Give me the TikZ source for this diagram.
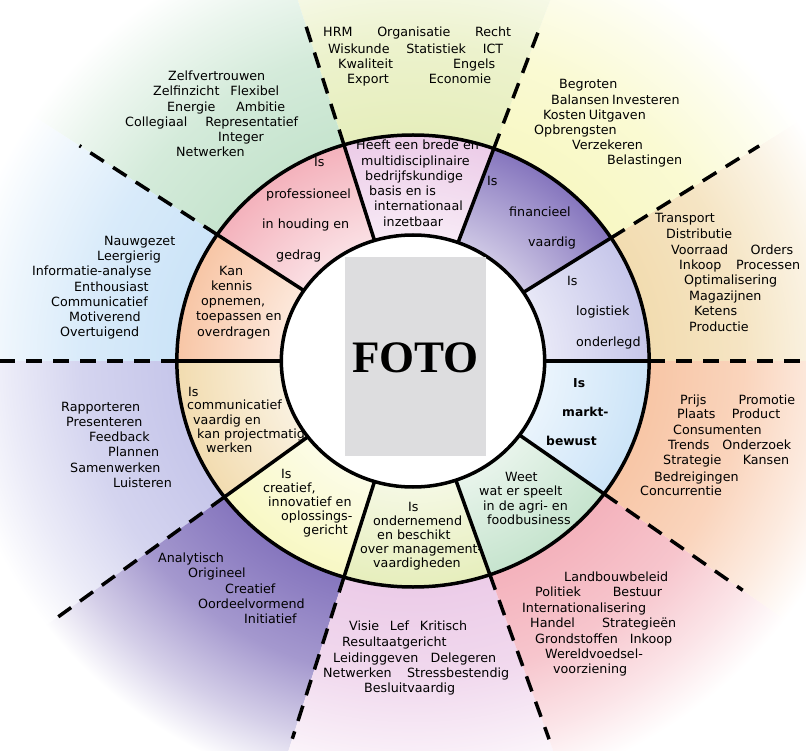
\documentclass[tikz,border=0pt]{standalone}
\usepackage{fontspec}
\setmainfont{DejaVu Sans}
\newfontfamily\fotofont{Liberation Serif}
\usepackage{tikz}

\definecolor{lavendel}{HTML}{C6C6EA}
\definecolor{paars}{HTML}{8676BE}
\definecolor{lila}{HTML}{ECCCE8}
\definecolor{roze}{HTML}{F4B2BC}
\definecolor{perzik}{HTML}{F8C6A6}
\definecolor{zand}{HTML}{F2DCB0}
\definecolor{geel}{HTML}{F8F8C4}
\definecolor{geelgroen}{HTML}{E6EEBC}
\definecolor{groen}{HTML}{C6E4CE}
\definecolor{blauw}{HTML}{CCE4F8}
\definecolor{fotogrijs}{HTML}{DDDDDF}

\colorlet{segcol}{white}
\colorlet{outcol}{white}
\pgfdeclareradialshading[segcol,outcol]{wheelfade}{\pgfpoint{0bp}{0bp}}{color(0bp)=(white); color(7.1bp)=(segcol!40!white); color(12.8bp)=(segcol); color(12.85bp)=(outcol); color(18bp)=(outcol!75!white); color(22bp)=(outcol!35!white); color(25bp)=(white); color(50bp)=(white)}

\newcommand\spread[2]{\makebox[#1pt][s]{#2}}

\tikzset{
  word/.style={anchor=base west,inner sep=0pt,font=\fontsize{12.7}{14}\selectfont},
  wheelline/.style={line width=3.5pt},
  dashline/.style={line width=3.5pt,dash pattern=on 16pt off 11pt},
}

\begin{document}
\begin{tikzpicture}[x=1pt,y=-1pt]
\useasboundingbox (0,0) rectangle (806,751);
\clip (0,0) rectangle (806,751);
\fill[white] (0,0) rectangle (806,751);

\begin{scope}[shift={(413,361)},x=1.045pt,y=1pt]
\foreach \a/\b/\ci/\co in {0/33/lavendel/zand, 33/70/paars/geel, 70/107/lila/geelgroen, 107/146/roze/groen, 146/180/perzik/blauw, 180/217/zand/lavendel, 217/253/geel/paars, 253/289/geelgroen/lila, 289/324/groen/roze, 324/360/blauw/perzik}{
  \colorlet{segcol}{\ci}\colorlet{outcol}{\co}
  \begin{scope}
    \clip (0,0) -- (\a:470) arc[start angle=\a,end angle=\b,radius=470] -- cycle;
    \shade[shading=wheelfade] (0,0) circle (440);
  \end{scope}
}
\filldraw[fill=white,wheelline] (0,0) circle (126);
\draw[wheelline] (0,0) circle (226);
\foreach \a in {0,33,70,107,146,180,217,253,289,324}
  \draw[wheelline] (\a:126) -- (\a:226);
\foreach \a/\r in {0/420, 33/395, 70/352, 107/356, 146/385, 180/420, 217/425, 253/395, 289/400, 324/390}
  \draw[dashline] (\a:226) -- (\a:\r);
\end{scope}

\node[fill=fotogrijs,minimum width=141pt,minimum height=199pt,inner sep=0pt] (foto) at (415.5,356.5) {};
\node[inner sep=0pt,font=\fotofont\bfseries\fontsize{45}{45}\selectfont] (fototekst) at (415.5,358) {FOTO};

\foreach \x/\y/\t [count=\i] in {323/37/{\spread{188}{HRM Organisatie Recht}}, 328/54/{\spread{175}{Wiskunde Statistiek ICT}}, 338/69/{\spread{157}{Kwaliteit Engels}}, 347/84/{\spread{144}{Export Economie}}}
  \node[word] (hrm\i) at (\x,\y) {\t};
\foreach \x/\y/\t [count=\i] in {168/81/Zelfvertrouwen, 153/96/{\spread{126}{Zelfinzicht Flexibel}}, 167/112/{\spread{118}{Energie Ambitie}}, 125/127/{\spread{173}{Collegiaal Representatief}}, 218/142/Integer, 176/157/Netwerken}
  \node[word] (zelf\i) at (\x,\y) {\t};
\foreach \x/\y/\t [count=\i] in {559/89/Begroten, 551/105/{\spread{124}{Balansen Investeren}}, 543/120/{\spread{99}{Kosten Uitgaven}}, 534/135/Opbrengsten, 572/150/Verzekeren, 607/165/Belastingen}
  \node[word] (begr\i) at (\x,\y) {\t};
\foreach \x/\y/\t [count=\i] in {655/223/Transport, 666/239/Distributie, 671/255/{\spread{122}{Voorraad Orders}}, 679/270/{\spread{121}{Inkoop Processen}}, 684/285/Optimalisering, 689/301/Magazijnen, 694/316/Ketens, 689/331/Productie}
  \node[word] (trans\i) at (\x,\y) {\t};
\foreach \x/\y/\t [count=\i] in {104/246/Nauwgezet, 97/261/Leergierig, 32/276/Informatie-analyse, 74/292/Enthousiast, 51/307/Communicatief, 69/322/Motiverend, 60/337/Overtuigend}
  \node[word] (nauw\i) at (\x,\y) {\t};
\foreach \x/\y/\t [count=\i] in {61/411/Rapporteren, 66/426/Presenteren, 89/441/Feedback, 108/456/Plannen, 70/472/Samenwerken, 113/487/Luisteren}
  \node[word] (rapp\i) at (\x,\y) {\t};
\foreach \x/\y/\t [count=\i] in {680/404/{\spread{115}{Prijs Promotie}}, 677/418/{\spread{103}{Plaats Product}}, 673/434/Consumenten, 668/449/{\spread{123}{Trends Onderzoek}}, 663/464/{\spread{126}{Strategie Kansen}}, 654/481/Bedreigingen, 640/495/Concurrentie}
  \node[word] (prijs\i) at (\x,\y) {\t};
\foreach \x/\y/\t [count=\i] in {158/562/Analytisch, 188/577/Origineel, 225/593/Creatief, 198/608/Oordeelvormend, 244/623/Initiatief}
  \node[word] (analyt\i) at (\x,\y) {\t};
\foreach \x/\y/\t [count=\i] in {349/630/{\spread{118}{Visie Lef Kritisch}}, 342/646/Resultaatgericht, 333/662/{\spread{163}{Leidinggeven Delegeren}}, 323/677/{\spread{186}{Netwerken Stressbestendig}}, 364/692/Besluitvaardig}
  \node[word] (visie\i) at (\x,\y) {\t};
\foreach \x/\y/\t [count=\i] in {564/581/Landbouwbeleid, 535/596/{\spread{127}{Politiek Bestuur}}, 522/612/Internationalisering, 530/627/{\spread{146}{Handel Strategieën}}, 535/643/{\spread{137}{Grondstoffen Inkoop}}, 545/658/Wereldvoedsel-, 553/673/voorziening}
  \node[word] (landb\i) at (\x,\y) {\t};

\foreach \x/\y/\t [count=\i] in {314/167/Is, 266/199/professioneel, 262/229/in houding en, 276/260/gedrag}
  \node[word] (prof\i) at (\x,\y) {\t};
\foreach \x/\y/\t [count=\i] in {356/150/Heeft een brede en, 361/166/multidisciplinaire, 365/181/bedrijfskundige, 369/196/basis en is, 374/211/internationaal, 383/227/inzetbaar}
  \node[word] (brede\i) at (\x,\y) {\t};
\foreach \x/\y/\t [count=\i] in {487/186/Is, 509/217/financieel, 528/247/vaardig}
  \node[word] (fin\i) at (\x,\y) {\t};
\foreach \x/\y/\t [count=\i] in {567/286/Is, 576/316/logistiek, 576/347/onderlegd}
  \node[word] (logis\i) at (\x,\y) {\t};
\foreach \x/\y/\t [count=\i] in {219/276/Kan, 211/291/kennis, 201/306/{opnemen,}, 196/321/toepassen en, 197/337/overdragen}
  \node[word] (kennis\i) at (\x,\y) {\t};
\foreach \x/\y/\t [count=\i] in {188/396/Is, 187/409/communicatief, 193/424/vaardig en, 197/438/kan projectmatig, 206/452/werken}
  \node[word] (comm\i) at (\x,\y) {\t};
\foreach \x/\y/\t [count=\i] in {281/478/Is, 263/492/{creatief,}, 268/506/innovatief en, 281/520/oplossings-, 303/534/gericht}
  \node[word] (creat\i) at (\x,\y) {\t};
\foreach \x/\y/\t [count=\i] in {408/511/Is, 373/525/ondernemend, 377/539/en beschikt, 360/553/over management-, 373/567/vaardigheden}
  \node[word] (onder\i) at (\x,\y) {\t};
\foreach \x/\y/\t [count=\i] in {505/481/Weet, 479/495/wat er speelt, 483/510/in de agri- en, 487/524/foodbusiness}
  \node[word] (weet\i) at (\x,\y) {\t};
\foreach \x/\y/\t [count=\i] in {573/388/Is, 562/416/markt-, 546/445/bewust}
  \node[word,font=\fontsize{12.3}{14}\selectfont\bfseries] (markt\i) at (\x,\y) {\t};
\end{tikzpicture}
\end{document}
